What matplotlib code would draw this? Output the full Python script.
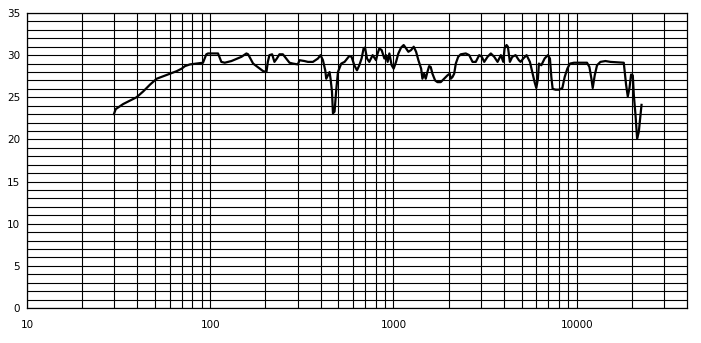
import numpy as np
from matplotlib import pyplot as plt
from matplotlib.ticker import FixedLocator, NullFormatter

# frequency (Hz) and level (dB)
freq = [29.8, 30.5, 33.5, 36.4, 39.6, 43.1, 46.9, 51.0, 55.4, 60.3, 65.6, 69.9, 72.8, 77.5,
        91.3, 95.2, 97.3, 110.3, 115, 120, 130.5, 148, 157.6, 161, 171.4, 182.5, 194.5, 202.7,
        206.2, 210.4, 217.7, 224.1, 231, 238.7, 249.2, 259.8, 270.8, 282.6, 300.9, 307.1,
        326.9, 341.3, 363.5, 387.1, 399.9, 412.2, 424.3, 429.7, 439, 448, 453.6, 461.7,
        467.5, 477.1, 487.4, 497.9, 518.9, 541, 574.1, 590.9, 611.3, 632.4, 651, 670,
        687.2, 699.4, 717.2, 738.3, 769.7, 803.2, 819.6, 837.3, 862, 891.9, 911.1, 929.7,
        949.8, 977.7, 1002.6, 1033.2, 1063.6, 1100.4, 1137, 1172, 1206, 1248, 1290, 1329,
        1368, 1416, 1439, 1470, 1500, 1532, 1566, 1597, 1632, 1688, 1738, 1812, 1891, 1971,
        2029, 2055, 2099, 2145, 2189, 2256, 2330, 2482, 2590, 2701, 2814, 2938, 3035, 3129,
        3262, 3400, 3548, 3700, 3856, 3975, 4040, 4143, 4212, 4319, 4451, 4640, 4836, 4941,
        5111, 5328, 5555, 5725, 5893, 6020, 6143, 6221, 6412, 6683, 6967, 7145, 7272, 7392,
        7676, 8002, 8352, 8598, 8894, 9192, 9666, 10517, 11385, 11733, 12034, 12232, 12543,
        12912, 13477, 14355, 15287, 18071, 18297, 18602, 19004, 19414, 19812, 20241, 20498,
        20941, 21366, 21829, 22301, 22585]
level = [23.0, 23.6, 24.2, 24.6, 25.0, 25.7, 26.5, 27.2, 27.5, 27.8, 28.1, 28.4, 28.7, 28.9,
         29.1, 30.1, 30.2, 30.2, 29.2, 29.1, 29.3, 29.8, 30.2, 30.1, 29.0, 28.55, 28.1, 28.0,
         29.2, 30.0, 30.1, 29.2, 29.6, 30.1, 30.1, 29.6, 29.1, 29.0, 28.9, 29.4,
         29.3, 29.2, 29.2, 29.6, 30.0, 29.4, 28.2, 27.2, 27.6, 28.0, 27.2, 25.7,
         23.1, 23.3, 25.9, 28.0, 29.0, 29.2, 29.9, 29.8, 28.8, 28.2, 28.8, 29.6,
         30.8, 30.9, 29.6, 29.2, 30.0, 29.4, 30.2, 30.8, 30.6, 29.6, 30.0, 29.2,
         30.2, 28.8, 28.4, 29.2, 30.2, 30.9, 31.2, 30.8, 30.4, 30.6, 31.0, 30.4,
         29.4, 28.4, 27.2, 27.8, 27.2, 28.0, 28.7, 28.6, 27.8, 27.0, 26.8, 26.8, 27.2, 27.6,
         27.8, 27.2, 27.4, 27.8, 29.0, 29.8, 30.1, 30.2, 30.0, 29.2, 29.2, 30.0, 29.8, 29.2,
         29.8, 30.2, 29.8, 29.2, 30.0, 29.2, 30.8, 31.2, 31.0, 29.2, 29.8, 30.0, 29.4, 29.2,
         29.6, 30.0, 29.2, 28.0, 26.8, 26.1, 27.2, 29.0, 28.8, 29.6, 30.0, 29.6, 27.4, 26.0,
         25.9, 25.9, 26.1, 27.4, 28.4, 29.0, 29.1, 29.1, 29.1, 28.6, 27.2, 26.1, 27.6,
         28.8, 29.2, 29.3, 29.2, 29.1, 28.0, 26.5, 25.1, 26.1, 27.7, 27.6, 25.3,
         22.9, 20.1, 20.9, 22.9, 24.1]

x_major = [10, 100, 1000, 10000]
x_labels = ["10", "100", "1000", "10000"]
y_major = [0, 5, 10, 15, 20, 25, 30, 35]

fig = plt.figure(figsize=(7.01, 3.43), dpi=100)
ax = fig.add_axes([27 / 701, 1 - 308 / 343, 660 / 701, 295 / 343])

ax.set_xscale('log')
ax.set_xlim(10, 40000)
ax.set_ylim(0, 35)

minor = [m * d for d in (10, 100, 1000, 10000) for m in range(2, 10) if m * d < 40000]
ax.xaxis.set_major_locator(FixedLocator(x_major))
ax.xaxis.set_minor_locator(FixedLocator(minor))
ax.xaxis.set_minor_formatter(NullFormatter())
ax.set_xticklabels(x_labels)
ax.set_yticks(y_major)
ax.set_yticks(range(0, 36), minor=True)

ax.grid(True, which='both', color='black', linewidth=0.8)
ax.tick_params(which='both', length=0, labelsize=7.5)
ax.tick_params(axis='x', pad=9)
ax.tick_params(axis='y', pad=5)
for s in ax.spines.values():
    s.set_linewidth(0.9)

ax.plot(freq, level, '-', color='black', linewidth=1.6)

fig.savefig("out.png", dpi=100)
